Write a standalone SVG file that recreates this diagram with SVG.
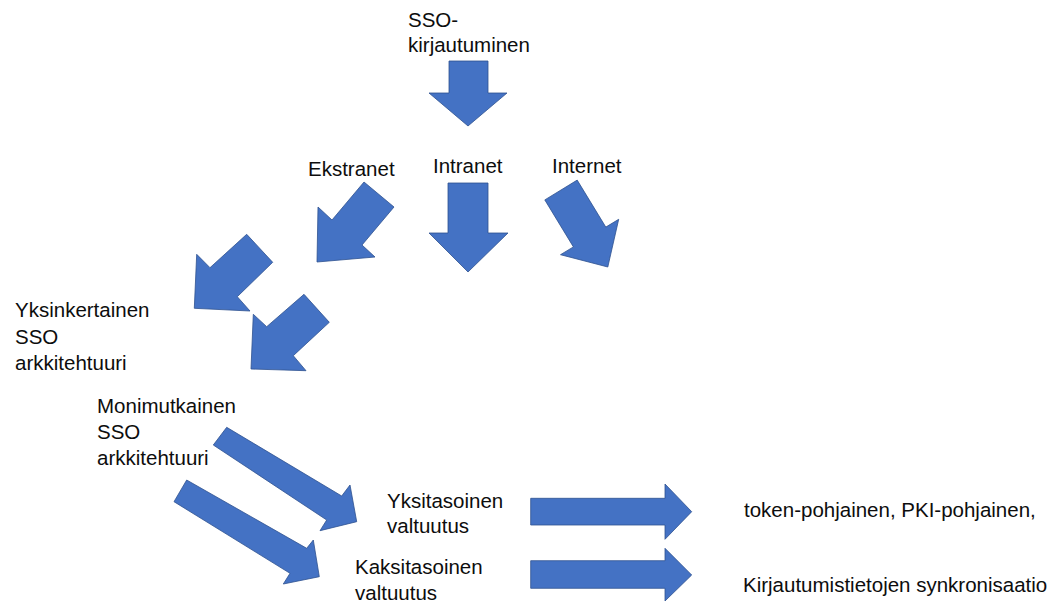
<svg xmlns="http://www.w3.org/2000/svg" width="1063" height="602" viewBox="0 0 1063 602">
<style>
.t{font-family:"Liberation Sans",Arial,sans-serif;font-size:20.5px;fill:#0d0d0d}
.a{fill:#4472C4;stroke:#2F528F;stroke-width:0.8;stroke-linejoin:miter}
</style>
<rect width="1063" height="602" fill="#ffffff"/>
<g id="connectors">
<polygon class="a" points="449,61 488,61 488,93 507,93 468,126 429,93 449,93"/>
<polygon class="a" points="448,183 488,183 488,233 508,233 468,272 429,233 448,233"/>
<polygon class="a" points="364,182 332,220 318,207 317,262 375,257 362,245 394,207"/>
<polygon class="a" points="577.2,180.1 605.8,227.1 618.7,219.3 607.8,267 560.5,254.7 573.4,246.9 544.8,199.9"/>
<polygon class="a" points="246.7,234.3 210,267.7 196.7,254.3 194.3,308.3 250,311 237.3,296.7 272.7,262.3"/>
<polygon class="a" points="304,294.3 266.7,326.7 253.3,314.3 251,369 306,370.7 293.3,355.7 329.3,322.3"/>
<polygon class="a" points="226.7,427.3 341.7,496 350,485 356.7,521.7 320,530.7 326.7,520 213.3,445"/>
<polygon class="a" points="186.7,480 306.7,548.3 313.3,540 319.3,576.7 283.3,584 290,573.3 174,501.7"/>
<polygon class="a" points="530.7,498.3 665,498.3 665,484 691.7,511.7 665,539.3 665,525 530.7,525"/>
<polygon class="a" points="530.7,560.7 665,560.7 665,548.3 691.7,575 665,601 665,588.3 530.7,588.3"/>
</g>
<g id="n-sso"><text class="t" x="408" y="27">SSO-</text><text class="t" x="408" y="52">kirjautuminen</text></g>
<g id="n-ekstranet"><text class="t" x="308" y="176">Ekstranet</text></g>
<g id="n-intranet"><text class="t" x="433" y="172.5">Intranet</text></g>
<g id="n-internet"><text class="t" x="552" y="173">Internet</text></g>
<g id="n-yksinkertainen"><text class="t" x="15" y="317">Yksinkertainen</text><text class="t" x="15" y="343.5">SSO</text><text class="t" x="15" y="370">arkkitehtuuri</text></g>
<g id="n-monimutkainen"><text class="t" x="97" y="413">Monimutkainen</text><text class="t" x="97" y="439">SSO</text><text class="t" x="97" y="465">arkkitehtuuri</text></g>
<g id="n-yksitasoinen"><text class="t" x="387" y="508">Yksitasoinen</text><text class="t" x="387" y="533">valtuutus</text></g>
<g id="n-kaksitasoinen"><text class="t" x="355" y="574">Kaksitasoinen</text><text class="t" x="355" y="600">valtuutus</text></g>
<g id="n-token"><text class="t" x="744" y="517">token-pohjainen, PKI-pohjainen,</text></g>
<g id="n-kirjautumis"><text class="t" x="743" y="592">Kirjautumistietojen synkronisaatio</text></g>
</svg>
